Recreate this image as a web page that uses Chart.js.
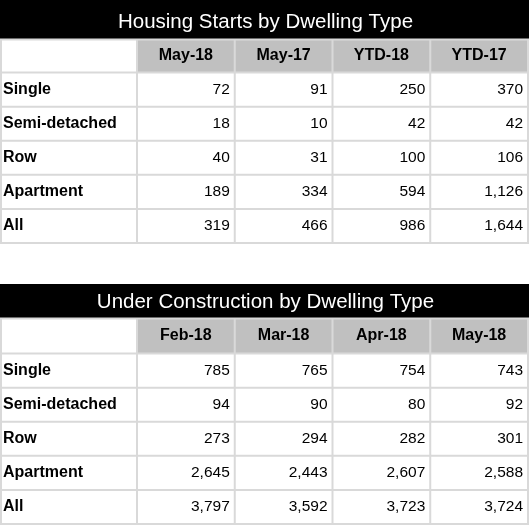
<!DOCTYPE html>
<html>
<head>
<meta charset="utf-8">
<title>Housing Starts and Under Construction</title>
<script src="https://cdn.jsdelivr.net/npm/chart.js@4.4.1/dist/chart.umd.min.js"></script>
<style>
    body { margin: 0; background: #fff; }
    .table-box { position: absolute; left: 0; width: 530px; }
    #startsBox { top: 0; height: 244px; }
    #constructionBox { top: 283px; height: 244px; }
</style>
</head>
<body>
<div class="table-box" id="startsBox"><canvas id="startsChart"></canvas></div>
<div class="table-box" id="constructionBox"><canvas id="constructionChart"></canvas></div>

<script>
const dwellingTypes = ["Single", "Semi-detached", "Row", "Apartment", "All"];

// Housing starts
const startsPeriods = ["May-18", "May-17", "YTD-18", "YTD-17"];
const startsMay18 = [72, 18, 40, 189, 319];
const startsMay17 = [91, 10, 31, 334, 466];
const startsYtd18 = [250, 42, 100, 594, 986];
const startsYtd17 = [370, 42, 106, 1126, 1644];

// Under construction
const constructionPeriods = ["Feb-18", "Mar-18", "Apr-18", "May-18"];
const constructionFeb18 = [785, 94, 273, 2645, 3797];
const constructionMar18 = [765, 90, 294, 2443, 3592];
const constructionApr18 = [754, 80, 282, 2607, 3723];
const constructionMay18 = [743, 92, 301, 2588, 3724];

const FONT = "'Liberation Sans', Arial, sans-serif";
const BORDER = "#d9d9d9";
const HEADER_FILL = "#c0c0c0";

// draws title bar, header cells, cell borders and the numbers
const tablePlugin = {
    id: "tableCells",
    beforeDraw(chart) {
        const { ctx, titleBlock } = chart;
        const x = chart.scales.x, y = chart.scales.y;
        const colW = x.width / x.ticks.length;
        const rowH = y.height / y.ticks.length;

        ctx.save();
        ctx.fillStyle = "#000";
        ctx.fillRect(0, titleBlock.top, x.right + 1, titleBlock.height);

        ctx.fillStyle = HEADER_FILL;
        x.ticks.forEach((t, i) => {
            const cx = x.getPixelForTick(i);
            ctx.fillRect(cx - colW / 2, x.top, colW, x.height);
        });

        ctx.strokeStyle = BORDER;
        ctx.lineWidth = 2;
        ctx.beginPath();
        const rowEdges = [x.top];
        y.ticks.forEach((t, i) => rowEdges.push(y.getPixelForTick(i) - rowH / 2));
        rowEdges.push(y.bottom);
        rowEdges.forEach(py => {
            ctx.moveTo(0, py);
            ctx.lineTo(x.right + 1, py);
        });
        const colEdges = [1];
        x.ticks.forEach((t, i) => colEdges.push(x.getPixelForTick(i) - colW / 2));
        colEdges.push(x.right);
        colEdges.forEach(px => {
            ctx.moveTo(px, x.top);
            ctx.lineTo(px, y.bottom + 1);
        });
        ctx.stroke();
        ctx.restore();
    },
    afterDatasetsDraw(chart) {
        const { ctx } = chart;
        const colW = chart.scales.x.width / chart.scales.x.ticks.length;
        ctx.save();
        ctx.font = "15.5px " + FONT;
        ctx.fillStyle = "#000";
        ctx.textAlign = "right";
        ctx.textBaseline = "middle";
        chart.data.datasets.forEach((ds, di) => {
            chart.getDatasetMeta(di).data.forEach((pt, i) => {
                ctx.fillText(ds.values[i].toLocaleString("en-US"), pt.x + colW / 2 - 5, pt.y);
            });
        });
        ctx.restore();
    }
};

function noPadding(s) {
    s.paddingTop = 0;
    s.paddingBottom = 0;
    s.paddingLeft = 0;
    s.paddingRight = 0;
}

function makeTable(canvasId, title, periods, columns, opt) {
    return new Chart(document.getElementById(canvasId), {
        type: "line",
        data: {
            datasets: periods.map((p, c) => ({
                label: p,
                values: columns[c],
                data: dwellingTypes.map(t => ({ x: p, y: t })),
                showLine: false,
                pointRadius: 0,
                pointHoverRadius: 0
            }))
        },
        options: {
            responsive: true,
            maintainAspectRatio: false,
            animation: false,
            events: [],
            layout: { padding: { left: 3, right: 2, top: opt.top, bottom: opt.bottom } },
            plugins: {
                legend: { display: false },
                tooltip: { enabled: false },
                title: {
                    display: true,
                    text: title,
                    color: "#fff",
                    font: { family: FONT, size: 20.5, weight: "normal" },
                    padding: opt.titlePadding
                }
            },
            scales: {
                x: {
                    type: "category",
                    position: "top",
                    labels: periods,
                    offset: true,
                    border: { display: false },
                    grid: { display: false, drawTicks: false },
                    ticks: {
                        color: "#000",
                        font: { family: FONT, size: 16, weight: "bold" },
                        padding: opt.headPadding,
                        maxRotation: 0,
                        autoSkip: false
                    },
                    afterFit: s => { noPadding(s); s.height = opt.headHeight; }
                },
                y: {
                    type: "category",
                    labels: dwellingTypes,
                    offset: true,
                    border: { display: false },
                    grid: { display: false, drawTicks: false },
                    ticks: {
                        color: "#000",
                        crossAlign: "far",
                        font: { family: FONT, size: 16, weight: "bold" },
                        autoSkip: false
                    },
                    afterFit: s => { noPadding(s); s.width = 134; }
                }
            }
        },
        plugins: [tablePlugin]
    });
}

makeTable("startsChart", "Housing Starts by Dwelling Type", startsPeriods,
    [startsMay18, startsMay17, startsYtd18, startsYtd17],
    { top: 0, bottom: 1, titlePadding: { top: 10, bottom: 5 }, headHeight: 33, headPadding: 7 });

makeTable("constructionChart", "Under Construction by Dwelling Type", constructionPeriods,
    [constructionFeb18, constructionMar18, constructionApr18, constructionMay18],
    { top: 1, bottom: 3, titlePadding: { top: 6, bottom: 4 }, headHeight: 35, headPadding: 8 });
</script>
</body>
</html>
